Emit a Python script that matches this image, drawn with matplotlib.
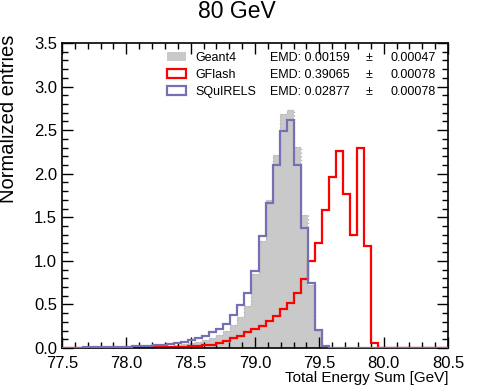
import numpy as np
import matplotlib
matplotlib.use("Agg")
import matplotlib.pyplot as plt
from matplotlib.patches import Patch
from matplotlib.ticker import MultipleLocator

plt.rcParams['font.family'] = ['Liberation Sans', 'DejaVu Sans']

# 55 bins between 77.5 and 80.5 GeV
edges = np.linspace(77.5, 80.5, 56)

geant4 = [0.001, 0.001, 0.002, 0.002, 0.003, 0.003, 0.004, 0.004, 0.005, 0.007,
          0.009, 0.011, 0.014, 0.018, 0.022, 0.028, 0.035, 0.045, 0.055, 0.07,
          0.09, 0.12, 0.15, 0.19, 0.26, 0.36, 0.48, 0.85, 1.23, 1.70,
          2.22, 2.69, 2.73, 2.31, 1.53, 0.72, 0.19, 0.0, 0.0, 0.0,
          0.0, 0.0, 0.0, 0.0, 0.0, 0.0, 0.0, 0.0, 0.0, 0.0,
          0.0, 0.0, 0.0, 0.0, 0.0]

squirels = [0.003, 0.004, 0.005, 0.006, 0.007, 0.008, 0.01, 0.011, 0.013, 0.015,
            0.018, 0.02, 0.025, 0.03, 0.035, 0.045, 0.055, 0.07, 0.09, 0.115,
            0.14, 0.18, 0.22, 0.28, 0.38, 0.49, 0.63, 0.88, 1.28, 1.66,
            2.10, 2.49, 2.62, 2.10, 1.38, 0.75, 0.21, 0.02, 0.0, 0.0,
            0.0, 0.0, 0.0, 0.0, 0.0, 0.0, 0.0, 0.0, 0.0, 0.0,
            0.0, 0.0, 0.0, 0.0, 0.0]

gflash = [0.001, 0.001, 0.001, 0.001, 0.001, 0.002, 0.002, 0.002, 0.002, 0.002,
          0.003, 0.004, 0.005, 0.006, 0.008, 0.01, 0.012, 0.015, 0.02, 0.025,
          0.03, 0.04, 0.055, 0.08, 0.11, 0.14, 0.18, 0.22, 0.25, 0.31,
          0.37, 0.45, 0.52, 0.63, 0.79, 1.00, 1.20, 1.58, 1.96, 2.26,
          1.77, 1.30, 2.30, 1.17, 0.06, 0.0, 0.0, 0.0, 0.0, 0.0,
          0.0, 0.0, 0.0, 0.0, 0.0]

names = ['Geant4', 'GFlash', 'SQuIRELS']
emd = [0.00159, 0.39065, 0.02877]
emd_err = [0.00047, 0.00078, 0.00078]

gray = '#c9c9c9'
red = '#ff0000'
purple = '#7570b3'

fig = plt.figure(figsize=(4.98, 3.88), dpi=100)
ax = fig.add_axes([0.1245, 0.1031, 0.7751, 0.7861])

ax.stairs(geant4, edges, fill=True, color=gray, zorder=1)
ax.stairs(geant4, edges, color='#b8b8b8', lw=1, ls=':', zorder=1.5)
ax.stairs(gflash, edges, color=red, lw=1.6, zorder=2)
ax.stairs(squirels, edges, color=purple, lw=1.6, zorder=3)

ax.set_xlim(77.5, 80.5)
ax.set_ylim(0, 3.5)
ax.xaxis.set_major_locator(MultipleLocator(0.5))
ax.xaxis.set_minor_locator(MultipleLocator(0.1))
ax.yaxis.set_major_locator(MultipleLocator(0.5))
ax.yaxis.set_minor_locator(MultipleLocator(0.1))
ax.xaxis.set_major_formatter('{x:.1f}')
ax.yaxis.set_major_formatter('{x:.1f}')
ax.tick_params(which='both', direction='in', top=True, right=True, labelsize=12, width=1)
ax.tick_params(which='major', length=8)
ax.tick_params(which='minor', length=4)
ax.tick_params(axis='x', which='major', pad=5.5)
for s in ax.spines.values():
    s.set_linewidth(1.2)

ax.set_ylabel('Normalized entries', fontsize=14.5, loc='top')
ax.yaxis.set_label_coords(-0.114, 1.026)
ax.set_xlabel('Total Energy Sum [GeV]', fontsize=11, loc='right')
ax.xaxis.set_label_coords(1.0, -0.075)

fig.text(237 / 498, 1 - 12 / 388, '80 GeV', ha='center', va='center', fontsize=16.5)

handles = [Patch(facecolor=gray, edgecolor='none'),
           Patch(facecolor='none', edgecolor=red, lw=1.6),
           Patch(facecolor='none', edgecolor=purple, lw=1.6)]
leg = ax.legend(handles, names, loc='upper left', bbox_to_anchor=(0.272, 0.972),
                frameon=False, fontsize=9, handlelength=1.5, handleheight=0.7,
                handletextpad=0.8, labelspacing=0.42, borderpad=0, borderaxespad=0)

fig.canvas.draw()
H = fig.bbox.height
for txt, e, de in zip(leg.get_texts(), emd, emd_err):
    x0, y0 = txt.get_transform().transform(txt.get_position())
    yb = y0 / H
    fig.text(270 / 498, yb, f'EMD: {e:.5f}', fontsize=9, va=txt.get_va())
    fig.text(369 / 498, yb, '\u00b1', fontsize=9, ha='center', va=txt.get_va())
    fig.text(436 / 498, yb, f'{de:.5f}', fontsize=9, ha='right', va=txt.get_va())

fig.savefig('out.png', dpi=100)
